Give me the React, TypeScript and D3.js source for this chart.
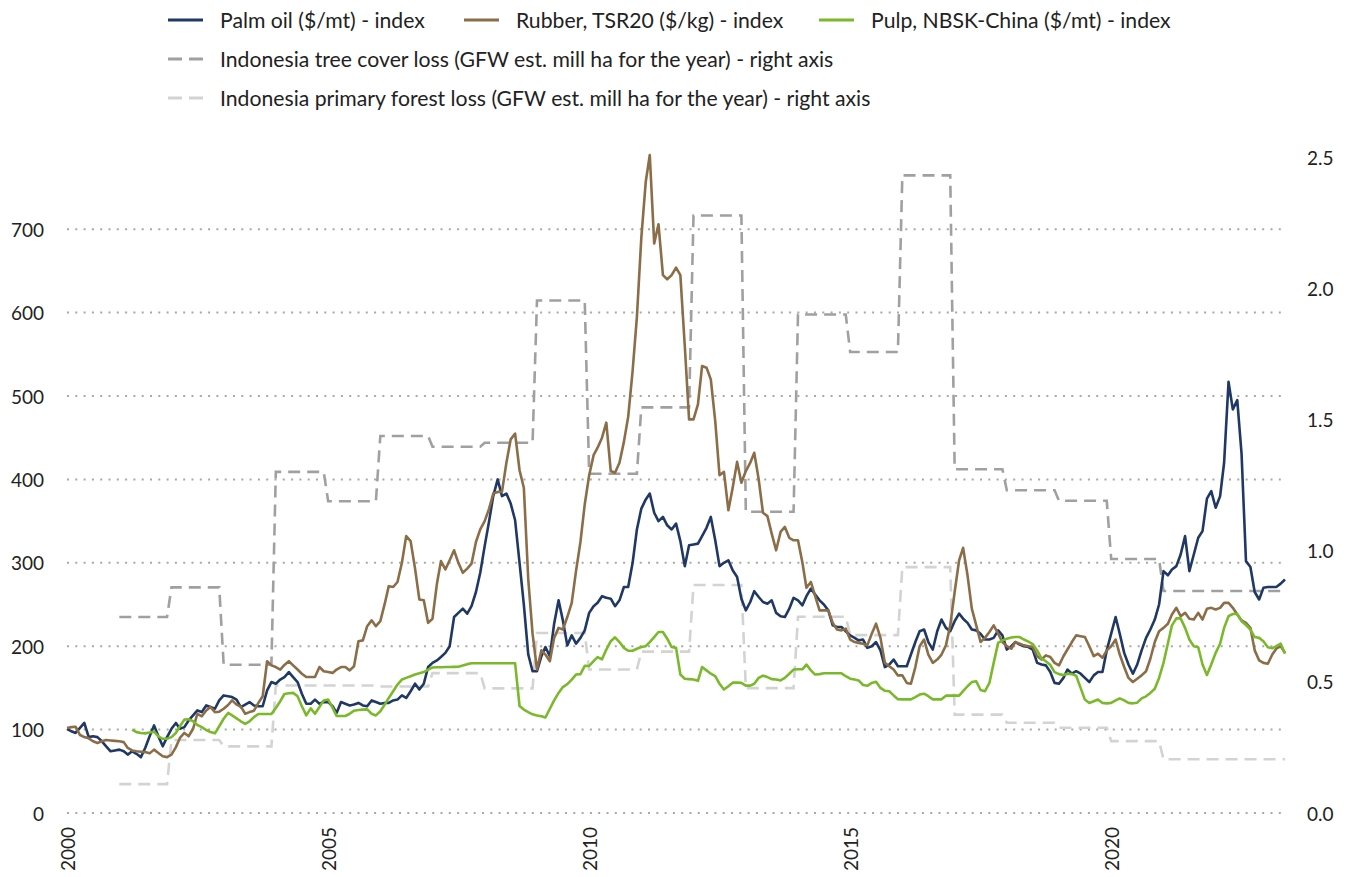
import React from "react";
import * as d3 from "d3";

// monthly index values, Jan 2000 = 100, through May 2023
const palmOil = [
  101, 98, 96, 102, 108, 91, 92, 91, 86, 80, 74, 75,
  76, 74, 70, 74, 71, 67, 78, 92, 105, 92, 80, 91,
  101, 108, 101, 103, 111, 117, 123, 121, 129, 127, 125, 135,
  141, 140, 139, 136, 127, 130, 133, 129, 128, 128, 147, 157,
  155, 160, 163, 169, 163, 157, 143, 131, 131, 136, 131, 133,
  133, 128, 120, 133, 131, 129, 130, 132, 129, 128, 135, 133,
  131, 132, 132, 135, 136, 141, 138, 146, 155, 148, 155, 175,
  180, 183, 187, 192, 200, 235, 240, 245, 239, 248, 265, 288,
  320, 350, 380, 400, 380, 383, 371, 351, 300, 250, 190, 170,
  170, 188, 199, 188, 227, 255, 231, 201, 213, 203, 210, 219,
  240, 248, 252, 260, 258, 257, 248, 255, 271, 271, 300, 340,
  365, 376, 383, 360, 350, 355, 345, 340, 347, 326, 296, 321,
  322, 323, 332, 342, 355, 327, 296, 300, 303, 291, 283, 257,
  243, 253, 266, 259, 253, 251, 255, 240, 236, 235, 245, 258,
  255, 249, 260, 269, 262, 255, 250, 243, 225, 223, 223, 218,
  213, 210, 207, 208, 198, 200, 205, 195, 175, 178, 184, 176,
  176, 176, 190, 205, 218, 220, 205, 196, 218, 232, 222, 218,
  230, 239, 233, 228, 220, 219, 215, 208, 208, 210, 219, 213,
  196, 200, 205, 202, 200, 199, 196, 180, 178, 177, 169, 156,
  155, 162, 172, 167, 170, 167, 162, 157, 165, 169, 169, 195,
  215, 235, 215, 192, 178, 167, 178, 195, 210, 220, 232, 250,
  290, 285, 292, 296, 310, 332, 290, 310, 330, 338, 377, 386,
  366, 380, 420, 517, 484, 495, 431, 302, 295, 265, 256, 270,
  271, 271, 271, 275, 280,
];

const rubber = [
  102, 103, 103.5, 93.5, 91, 89.5, 86, 84, 86, 87.5, 87, 86.5,
  86, 85, 78, 75, 74, 73.5, 73, 71.5, 76, 72, 68, 67,
  70, 79, 90, 96, 92, 101, 119, 116, 123, 127, 121, 121.5,
  125, 129.5, 135, 130, 127.5, 119, 121, 122.7, 132, 140, 182, 177,
  175, 172, 177.5, 182, 177, 172, 167, 163, 163, 163, 175, 170,
  169, 168, 172, 175, 175, 171, 176, 206, 207, 224, 231, 224,
  230, 251, 272, 271, 277, 300, 332, 326, 293, 256, 255, 228,
  233, 275, 302, 292, 303, 315, 300, 288, 293, 299, 325, 340,
  350, 365, 383, 385, 385, 420, 448, 455, 411, 390, 280, 215,
  172, 195, 190, 182, 210, 222, 220, 235, 252, 290, 325, 370,
  405, 429, 438, 450, 468, 410, 408, 420, 445, 475, 530, 595,
  690, 757, 789, 683, 706, 645, 640, 645, 654, 645, 560, 472,
  472, 490, 536, 534, 520, 470, 405, 409, 363, 390, 421, 396,
  410, 420, 432, 400, 360, 356, 335, 315, 337, 343, 330, 327,
  327, 300, 270, 277, 260, 243, 243, 243, 228, 220, 219, 221,
  208, 205, 204, 203, 201, 215, 227, 210, 180, 176, 172, 165,
  165, 156, 155, 175, 200, 208, 190, 180, 184, 190, 201, 225,
  265, 303, 318, 285, 245, 225, 205, 210, 217, 225, 215, 205,
  200, 197, 205, 203, 201, 200, 199, 188, 184, 189, 187, 180,
  177, 188, 196, 205, 213, 212, 211, 200, 188, 191, 186, 195,
  200, 208, 190, 175, 162, 157, 161, 165, 170, 185, 205, 218,
  222, 227, 238, 246, 236, 240, 233, 232, 240, 232, 245, 246,
  244, 246, 252, 252, 246, 238, 231, 228, 222, 195, 183, 180,
  179, 190, 197, 200, 192,
];

// pulp starts Apr 2001 (month index 15)
const pulpStartMonth = 15;
const pulp = [
  100, 97, 96, 95.5, 96.5, 97.5, 92, 89, 89,
  91, 96, 104, 112, 112.5, 110, 105.5, 103, 99.5, 97, 95.5, 104,
  113, 120, 117, 113.5, 110, 107, 110, 115, 118.7, 118.7, 118.7, 118.7,
  126, 134, 142.7, 143.5, 144, 140, 128, 117, 125.5, 119, 127, 135,
  136, 126, 116.5, 116.3, 116.3, 119, 122.7, 123.5, 124, 124.3, 119, 117,
  122, 130, 138, 146, 154, 160, 162, 164, 166, 167.5, 169, 172,
  174.5, 174.7, 174.8, 175, 175, 175.2, 175.4, 177, 178.5, 179.5, 179.5, 179.5,
  179.5, 179.5, 179.5, 179.5, 179.5, 179.5, 179.5, 179.5, 128.3, 124, 121, 118.3,
  117, 116, 114.5, 125, 135, 144, 151, 154.5, 160, 166, 166.5, 176.5,
  176.3, 182, 187, 184.3, 196, 206, 210.7, 205, 198, 194.6, 194.6, 197,
  199, 200, 205, 211, 217, 217, 209, 199, 198, 166, 161, 160.5,
  160, 158.5, 175, 171, 167, 164, 155, 148, 152, 156.3, 156.3, 156,
  152.7, 152.7, 155, 162, 164.7, 163, 160.5, 160, 159, 162, 167, 172,
  172.3, 172.3, 178, 171, 166, 166.5, 167.5, 167.5, 167.5, 167.5, 167.5, 164,
  161, 160, 159, 153.5, 152.5, 156, 157.4, 150, 146.5, 146, 141, 136.5,
  136.3, 136.3, 136.3, 139, 142, 143, 140, 136.3, 136.3, 136.3, 140.7, 140.7,
  140.7, 140.7, 146, 152, 157, 158, 147.5, 146, 156, 180, 204, 207,
  209, 210.5, 211, 211, 208, 205.5, 202.6, 195, 185, 182, 177.5, 169,
  166.5, 165.5, 167, 166.5, 164.5, 150, 136, 132, 134, 136, 132, 131.5,
  132, 135, 137.5, 135, 132, 131.5, 132.3, 137.5, 139.9, 144, 149, 162,
  180, 203.5, 225, 233.4, 233.4, 222, 208, 200, 198.7, 178, 165.5, 178,
  192, 203, 222, 236, 238.6, 238.6, 230, 225.4, 220, 211, 210, 206,
  198.7, 197.5, 200, 203, 191,
];

// annual loss, million ha (right axis)
const lossYears = [
  2001, 2002, 2003, 2004, 2005, 2006, 2007, 2008, 2009, 2010, 2011, 2012,
  2013, 2014, 2015, 2016, 2017, 2018, 2019, 2020, 2021, 2022, 2023,
];
const treeCoverLoss = [
  0.747, 0.86, 0.565, 1.3, 1.188, 1.437, 1.396, 1.411, 1.953, 1.293, 1.546, 2.277,
  1.148, 1.9, 1.757, 2.43, 1.31, 1.23, 1.19, 0.968, 0.846, 0.846, 0.846,
];
const primaryForestLoss = [
  0.11, 0.278, 0.254, 0.486, 0.486, 0.482, 0.533, 0.475, 0.686, 0.547, 0.615, 0.869,
  0.476, 0.748, 0.678, 0.937, 0.375, 0.344, 0.325, 0.274, 0.205, 0.205, 0.205,
];

const leftTicks = [0, 100, 200, 300, 400, 500, 600, 700];
const rightTicks = [0, 0.5, 1.0, 1.5, 2.0, 2.5];
const yearTicks = [2000, 2005, 2010, 2015, 2020];

const W = 1354;
const H = 877;
const plot = { left: 67, right: 1285, top: 157, bottom: 813 };
const FONT = "Lato, 'Open Sans', sans-serif";

const navy = "#1f3864";
const brown = "#8b6d47";
const green = "#7ab929";
const gray = "#a0a0a0";
const lightGray = "#d3d3d3";

const monthDate = (m: number) => new Date(2000, m, 1);
const lastMonth = palmOil.length - 1;

export default function App() {
  const x = d3
    .scaleTime()
    .domain([monthDate(0), monthDate(lastMonth)])
    .range([plot.left, plot.right]);
  const yL = d3.scaleLinear().domain([0, 786.6]).range([plot.bottom, plot.top]);
  const yR = d3.scaleLinear().domain([0, 2.5]).range([plot.bottom, plot.top]);

  const monthly = (vals: number[], start: number) =>
    vals.map((v, i) => [monthDate(start + i), v] as [Date, number]);

  // each year's value held flat from Jan to Dec
  const stepped = (vals: number[]) =>
    lossYears.flatMap((yr, i) => {
      const end = d3.min([new Date(yr, 11, 1), monthDate(lastMonth)]) as Date;
      return [
        [new Date(yr, 0, 1), vals[i]] as [Date, number],
        [end, vals[i]] as [Date, number],
      ];
    });

  const lineL = d3
    .line<[Date, number]>()
    .x((d) => x(d[0]))
    .y((d) => yL(d[1]));
  const lineR = d3
    .line<[Date, number]>()
    .x((d) => x(d[0]))
    .y((d) => yR(d[1]));

  const legend = [
    { label: "Palm oil ($/mt) - index", color: navy, dash: null, x: 168, y: 20 },
    { label: "Rubber, TSR20 ($/kg) - index", color: brown, dash: null, x: 464, y: 20 },
    { label: "Pulp, NBSK-China ($/mt) - index", color: green, dash: null, x: 819, y: 20 },
    {
      label: "Indonesia tree cover loss (GFW est. mill ha for the year) - right axis",
      color: gray,
      dash: "14,7",
      x: 168,
      y: 59,
    },
    {
      label: "Indonesia primary forest loss (GFW est. mill ha for the year) - right axis",
      color: lightGray,
      dash: "14,7",
      x: 168,
      y: 98,
    },
  ];

  return (
    <div style={{ position: "absolute", left: 0, top: 0 }}>
      <svg width={W} height={H} style={{ display: "block", background: "#fff" }}>
        {/* gridlines */}
        {leftTicks.map((t) => (
          <line
            key={t}
            x1={plot.left}
            x2={plot.right + 2}
            y1={yL(t)}
            y2={yL(t)}
            stroke="#a8a8a8"
            strokeWidth={2}
            strokeDasharray="2,6.3"
          />
        ))}

        {/* left axis labels */}
        {leftTicks.map((t) => (
          <text
            key={t}
            x={44}
            y={yL(t)}
            textAnchor="end"
            dominantBaseline="central"
            fontFamily={FONT}
            fontSize={19}
            fill="#222"
          >
            {t}
          </text>
        ))}

        {/* right axis labels */}
        {rightTicks.map((t) => (
          <text
            key={t}
            x={1307}
            y={yR(t)}
            textAnchor="start"
            dominantBaseline="central"
            fontFamily={FONT}
            fontSize={19}
            fill="#222"
          >
            {d3.format(".1f")(t)}
          </text>
        ))}

        {/* year labels */}
        {yearTicks.map((yr) => (
          <text
            key={yr}
            transform={`translate(${x(new Date(yr, 0, 1))},${plot.bottom + 14}) rotate(-90)`}
            textAnchor="end"
            dominantBaseline="central"
            fontFamily={FONT}
            fontSize={19}
            fill="#222"
          >
            {yr}
          </text>
        ))}

        {/* right axis series */}
        <path
          d={lineR(stepped(primaryForestLoss)) || ""}
          fill="none"
          stroke={lightGray}
          strokeWidth={2.6}
          strokeDasharray="12,7"
        />
        <path
          d={lineR(stepped(treeCoverLoss)) || ""}
          fill="none"
          stroke={gray}
          strokeWidth={2.6}
          strokeDasharray="12,7"
        />

        {/* left axis series */}
        <path
          d={lineL(monthly(palmOil, 0)) || ""}
          fill="none"
          stroke={navy}
          strokeWidth={2.6}
          strokeLinejoin="round"
        />
        <path
          d={lineL(monthly(rubber, 0)) || ""}
          fill="none"
          stroke={brown}
          strokeWidth={2.6}
          strokeLinejoin="round"
        />
        <path
          d={lineL(monthly(pulp, pulpStartMonth)) || ""}
          fill="none"
          stroke={green}
          strokeWidth={2.6}
          strokeLinejoin="round"
        />

        {/* legend */}
        {legend.map((d) => (
          <g key={d.label}>
            <line
              x1={d.x}
              x2={d.x + 35}
              y1={d.y}
              y2={d.y}
              stroke={d.color}
              strokeWidth={3}
              strokeDasharray={d.dash || undefined}
            />
            <text
              x={d.x + 52}
              y={d.y}
              dominantBaseline="central"
              fontFamily={FONT}
              fontSize={21.2}
              fill="#222"
            >
              {d.label}
            </text>
          </g>
        ))}
      </svg>
    </div>
  );
}
